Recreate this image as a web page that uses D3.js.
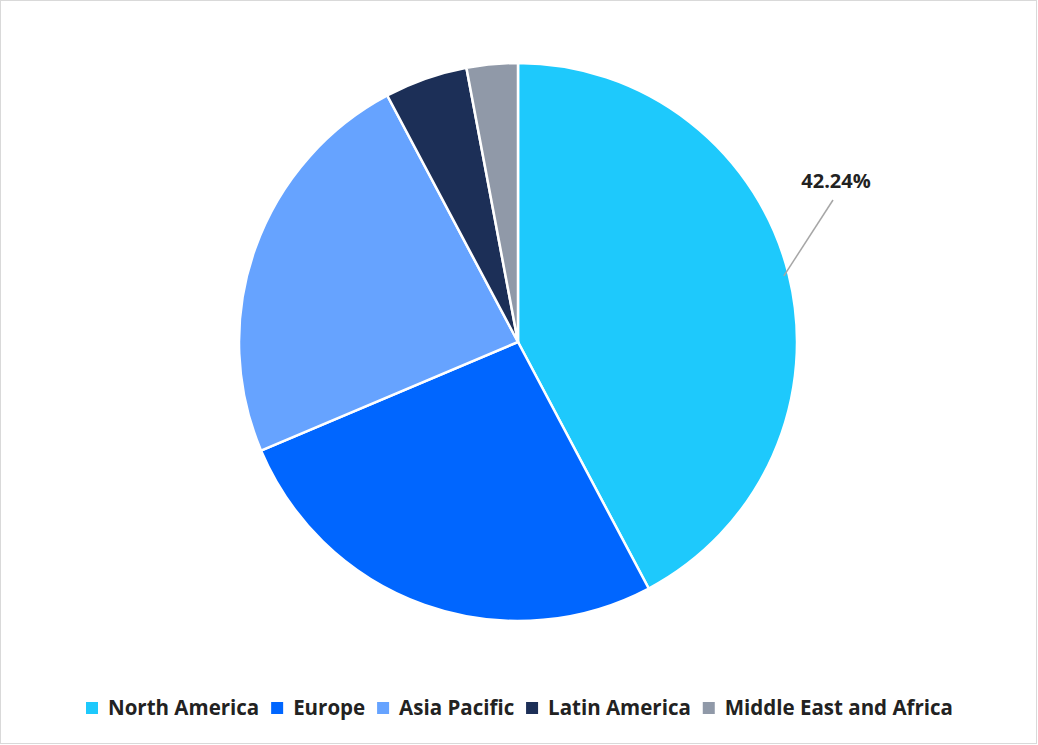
<!DOCTYPE html>
<html><head><meta charset="utf-8">
<script src="https://cdn.jsdelivr.net/npm/d3@7"></script>
<style>body{margin:0;background:#fff}</style></head>
<body><svg id="c" width="1038" height="745"></svg>
<script>
const categories=["North America","Europe","Asia Pacific","Latin America","Middle East and Africa"];
const values=[42.24,26.4,23.6,4.8,2.96];
const colors=["#1ec9fc","#0066ff","#66a3ff","#1c2f57","#9099a8"];
const svg=d3.select("#c");
svg.append("rect").attr("x",0.5).attr("y",0.5).attr("width",1036).attr("height",743).attr("fill","#fff").attr("stroke","#d9d9d9");
const cx=518,cy=342,r=279;
const g=svg.append("g").attr("transform",`translate(${cx},${cy})`);
const pie=d3.pie().sort(null).value(d=>d)(values);
const arc=d3.arc().innerRadius(0).outerRadius(r);
g.selectAll("path").data(pie).join("path").attr("d",arc).attr("fill",(d,i)=>colors[i]).attr("stroke","#fff").attr("stroke-width",2.5);
const a=pie[0];const mid=(a.startAngle+a.endAngle)/2;
const p1=[Math.sin(mid)*(r-5),-Math.cos(mid)*(r-5)];
g.append("line").attr("x1",p1[0]).attr("y1",p1[1]).attr("x2",315).attr("y2",-142).attr("stroke","#a6a6a6").attr("stroke-width",1.5);
g.append("text").attr("x",318).attr("y",-154).attr("text-anchor","middle").attr("font-family","Open Sans, Arial").attr("font-weight","bold").attr("font-size",20).attr("fill","#222").text(values[0].toFixed(2)+"%");
const lg=svg.append("g").attr("font-family","Open Sans, Arial").attr("font-weight","bold").attr("font-size",20.5);
const items=categories.map((c,i)=>{
  const rc=lg.append("rect").attr("y",702).attr("width",12).attr("height",12).attr("fill",colors[i]);
  const t=lg.append("text").attr("y",715).attr("fill","#222").text(c);
  return {rc,t,w:t.node().getComputedTextLength()};
});
const total=953-86, textSum=d3.sum(items,d=>d.w);
const gap=(total-textSum-22*items.length)/(items.length-1);
let x=86;
items.forEach(d=>{d.rc.attr("x",x);d.t.attr("x",x+22);x+=22+d.w+gap;});
</script></body></html>
